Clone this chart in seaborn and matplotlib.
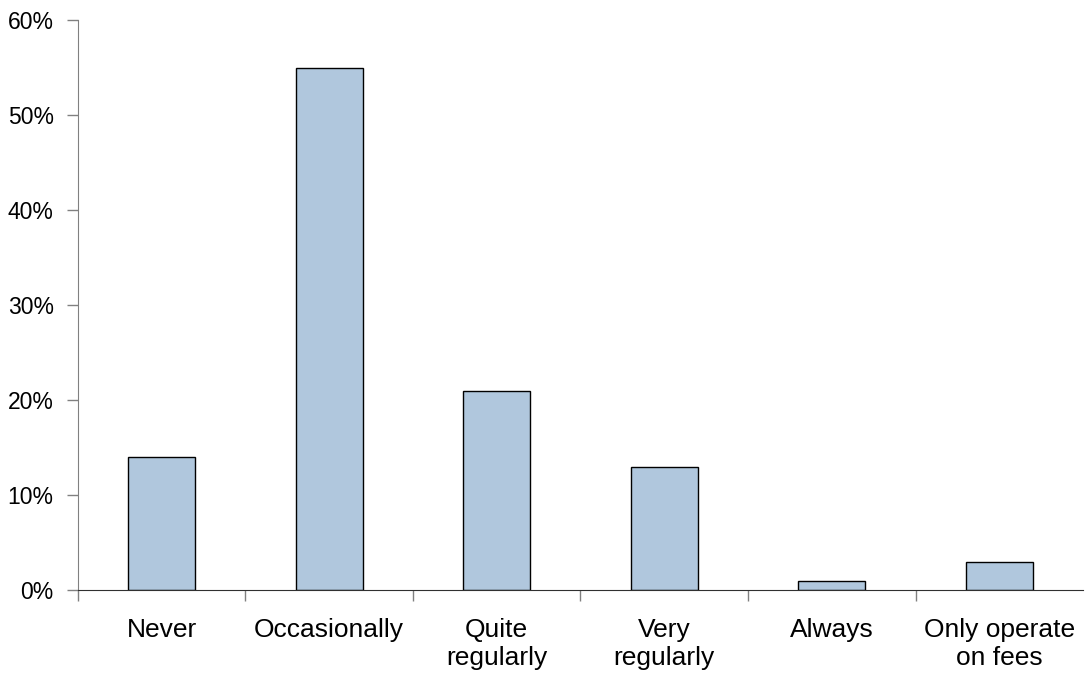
import matplotlib
matplotlib.use("Agg")
import matplotlib.pyplot as plt
import seaborn as sns
import pandas as pd
from matplotlib.ticker import PercentFormatter, FixedLocator

categories = ["Never", "Occasionally", "Quite\nregularly", "Very\nregularly",
              "Always", "Only operate\non fees"]
shares = [14, 55, 21, 13, 1, 3]

sns.set_style("white")
plt.rcParams["font.family"] = ["Liberation Sans", "DejaVu Sans"]
plt.rcParams["text.color"] = "black"
plt.rcParams["xtick.color"] = "black"
plt.rcParams["ytick.color"] = "black"

df = pd.DataFrame({"category": categories, "share": shares})

fig = plt.figure(figsize=(10.89, 6.76), dpi=100)
ax = fig.add_axes([0.0716, 0.127, 0.9229, 0.843])

sns.barplot(data=df, x="category", y="share", ax=ax, color="#B0C7DD",
            saturation=1, width=0.4, edgecolor="black", linewidth=1)

ax.set_xlim(-0.5, 5.5)
ax.set_ylim(0, 60)
ax.set_yticks(range(0, 61, 10))
ax.yaxis.set_major_formatter(PercentFormatter(decimals=0))
ax.set_xlabel("")
ax.set_ylabel("")

for s in ("top", "right"):
    ax.spines[s].set_visible(False)
ax.spines["left"].set_color("#808080")
ax.spines["bottom"].set_color("#303030")

# category separators as minor ticks on the x axis
ax.xaxis.set_minor_locator(FixedLocator([-0.5, 0.5, 1.5, 2.5, 3.5, 4.5]))
ax.tick_params(axis="x", which="major", length=0, pad=20, labelsize=19,
               labelcolor="black")
ax.tick_params(axis="x", which="minor", length=8, width=1, color="#808080",
               direction="out", bottom=True)
ax.tick_params(axis="y", which="major", length=8, width=1, color="#808080",
               direction="out", left=True, pad=9.5, labelsize=16.5,
               labelcolor="black")
for lbl in ax.get_xticklabels():
    lbl.set_linespacing(1.2)

fig.savefig("out.png", dpi=100)
